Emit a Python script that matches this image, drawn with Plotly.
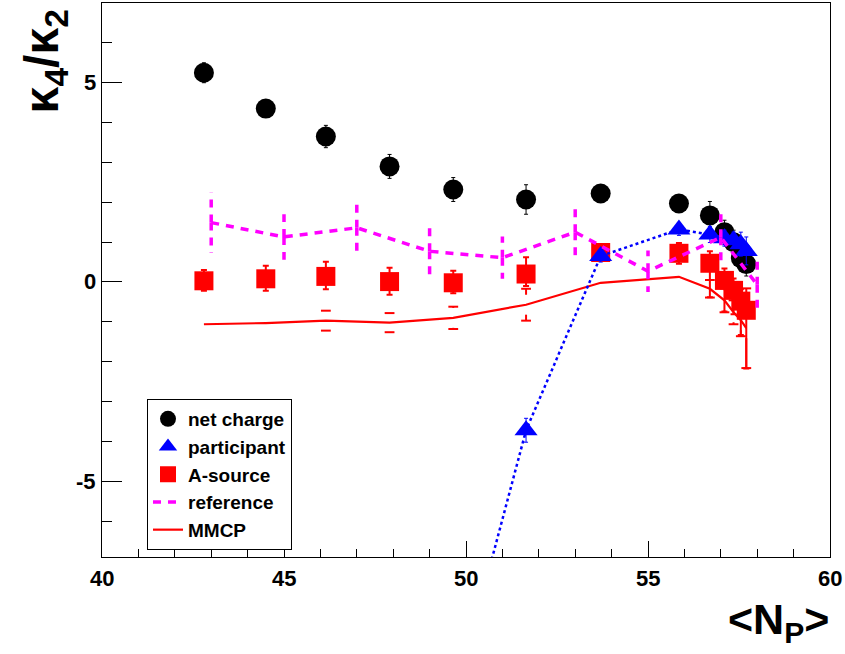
import plotly.graph_objects as go

# ---------------- data ----------------
np_x = [42.8, 44.5, 46.15, 47.9, 49.65, 51.65, 53.7, 55.85, 56.7, 57.1, 57.35, 57.55, 57.7]

net_y = [5.25, 4.35, 3.65, 2.9, 2.32, 2.07, 2.22, 1.97, 1.67, 1.25, 1.0, 0.6, 0.45]
net_err = [0.25, 0.2, 0.28, 0.3, 0.3, 0.37, 0.2, 0.2, 0.35, 0.3, 0.3, 0.3, 0.3]

part_x = [49.65, 51.65, 53.7, 55.85, 56.7, 57.1, 57.35, 57.55, 57.7]
part_y = [-10.6, -3.72, 0.65, 1.32, 1.19, 1.1, 1.05, 0.95, 0.78]
part_err = [0.3, 0.3, 0.15, 0.15, 0.2, 0.2, 0.2, 0.3, 0.35]

asrc_y = [0.03, 0.08, 0.14, 0.01, -0.02, 0.2, 0.74, 0.72, 0.47, 0.04, -0.21, -0.48, -0.71]
asrc_err_hi = [0.27, 0.33, 0.37, 0.35, 0.3, 0.42, 0.2, 0.26, 0.3, 0.3, 0.3, 0.3, 0.3]
asrc_err_lo = [0.25, 0.3, 0.32, 0.33, 0.26, 0.3, 0.2, 0.26, 0.85, 0.78, 0.6, 0.85, 1.46]

ref_x = [43.0, 45.0, 47.0, 49.0, 51.0, 53.0, 55.0, 57.0, 58.0]
ref_y = [1.49, 1.13, 1.36, 0.77, 0.61, 1.25, 0.27, 1.12, -0.07]
ref_err = [0.76, 0.57, 0.63, 0.61, 0.53, 0.6, 0.52, 0.65, 0.66]

mmcp_y = [-1.06, -1.03, -0.97, -1.02, -0.9, -0.57, -0.02, 0.13, -0.17, -0.46, -0.76, -0.96, -1.16]
mmcp_err = [0.0, 0.0, 0.25, 0.24, 0.28, 0.4, 0.0, 0.0, 0.22, 0.3, 0.3, 0.4, 1.0]

x_ticks = [40, 45, 50, 55, 60]
y_ticks = [-5, 0, 5]

FONT = "Arial"
MAGENTA = "#ff00ff"
RED = "#ff0000"
BLUE = "#0000ff"
GAP = 0.25  # marker gap for error bars drawn ROOT-style


def bar_segments(xs, ys, errs, gap=0.0):
    sx, sy = [], []
    for xi, yi, ei in zip(xs, ys, errs):
        if ei > gap:
            sx += [xi, xi, None, xi, xi, None]
            sy += [yi + gap, yi + ei, None, yi - gap, yi - ei, None]
    return sx, sy


def cap_points(xs, ys, errs):
    cx, cy = [], []
    for xi, yi, ei in zip(xs, ys, errs):
        if ei > 0:
            cx += [xi, xi]
            cy += [yi + ei, yi - ei]
    return cx, cy


fig = go.Figure()

# MMCP error bars (with marker gap) and caps
mx, my = bar_segments(np_x, mmcp_y, mmcp_err, GAP)
fig.add_trace(go.Scatter(x=mx, y=my, mode="lines", line=dict(color=RED, width=2),
                         showlegend=False, hoverinfo="skip"))
cx, cy = cap_points(np_x, mmcp_y, mmcp_err)
fig.add_trace(go.Scatter(x=cx, y=cy, mode="markers",
                         marker=dict(symbol="line-ew", size=7, line=dict(color=RED, width=2)),
                         showlegend=False, hoverinfo="skip"))
# MMCP line
fig.add_trace(go.Scatter(x=np_x, y=mmcp_y, mode="lines", name="MMCP",
                         line=dict(color=RED, width=2.2), legendrank=5))

# A-source
fig.add_trace(go.Scatter(x=np_x, y=asrc_y, mode="markers", name="A-source",
                         marker=dict(symbol="square", size=19, color=RED),
                         error_y=dict(type="data", array=asrc_err_hi, arrayminus=asrc_err_lo,
                                      color=RED, thickness=2, width=3),
                         legendrank=3))

# net charge
fig.add_trace(go.Scatter(x=np_x, y=net_y, mode="markers", name="net charge",
                         marker=dict(symbol="circle", size=20, color="black"),
                         error_y=dict(type="data", array=net_err, color="black",
                                      thickness=1, width=2),
                         legendrank=1))

# participant
fig.add_trace(go.Scatter(x=part_x, y=part_y, mode="lines", showlegend=False,
                         line=dict(color=BLUE, width=2.5, dash="dot"), hoverinfo="skip"))
fig.add_trace(go.Scatter(x=part_x, y=part_y, mode="markers", name="participant",
                         marker=dict(symbol="triangle-up", size=20, color=BLUE),
                         error_y=dict(type="data", array=part_err, color=BLUE,
                                      thickness=1, width=2),
                         legendrank=2))

# reference
rx, ry = bar_segments(ref_x, ref_y, ref_err)
fig.add_trace(go.Scatter(x=rx, y=ry, mode="lines", showlegend=False, hoverinfo="skip",
                         line=dict(color=MAGENTA, width=3.5, dash="8px,7px")))
fig.add_trace(go.Scatter(x=ref_x, y=ref_y, mode="lines", name="reference",
                         line=dict(color=MAGENTA, width=3.5, dash="8px,7px"),
                         legendrank=4))

fig.update_layout(
    width=845, height=654,
    margin=dict(l=102, r=15, t=3, b=97),
    paper_bgcolor="white", plot_bgcolor="white",
    showlegend=True,
    legend=dict(x=0.0618, y=0.2852, xanchor="left", yanchor="top",
                bordercolor="black", borderwidth=1, bgcolor="white",
                font=dict(family=FONT, size=19, color="black", weight="bold"),
                traceorder="normal"),
    xaxis=dict(range=[40, 60], tickmode="array", tickvals=x_ticks, showticklabels=False,
               ticks="inside", ticklen=16, tickwidth=1, tickcolor="black",
               minor=dict(ticks="inside", ticklen=8, dtick=1, tickcolor="black", tickwidth=1),
               showline=True, linecolor="black", linewidth=1, mirror=True,
               showgrid=False, zeroline=False),
    yaxis=dict(range=[-6.9, 7], tickmode="array", tickvals=y_ticks, showticklabels=False,
               ticks="inside", ticklen=20, tickwidth=1, tickcolor="black",
               minor=dict(ticks="inside", ticklen=10, dtick=1, tickcolor="black", tickwidth=1),
               showline=True, linecolor="black", linewidth=1, mirror=True,
               showgrid=False, zeroline=False),
)

# tick labels as bold text placed by the axes' own scales
tick_label_font = dict(family=FONT, size=22, color="black")
for v in x_ticks:
    fig.add_annotation(text="<b>%d</b>" % v, xref="x", yref="paper", x=v, y=-0.012,
                       xanchor="center", yanchor="top", showarrow=False,
                       font=tick_label_font)
for v in y_ticks:
    fig.add_annotation(text="<b>%d</b>" % v, xref="paper", yref="y", x=-0.006, y=v,
                       xanchor="right", yanchor="middle", showarrow=False,
                       font=tick_label_font)

fig.add_annotation(text="<b>κ<sub>4</sub>/κ<sub>2</sub></b>", xref="paper", yref="paper",
                   x=-0.078, y=0.895, xanchor="center", yanchor="middle", textangle=-90,
                   showarrow=False, font=dict(family=FONT, size=48, color="black"))
fig.add_annotation(text="<b>&lt;N<sub>P</sub>&gt;</b>", xref="paper", yref="paper",
                   x=0.9286, y=-0.117, xanchor="center", yanchor="middle",
                   showarrow=False, font=dict(family=FONT, size=43, color="black"))

fig.write_html("out.html")
